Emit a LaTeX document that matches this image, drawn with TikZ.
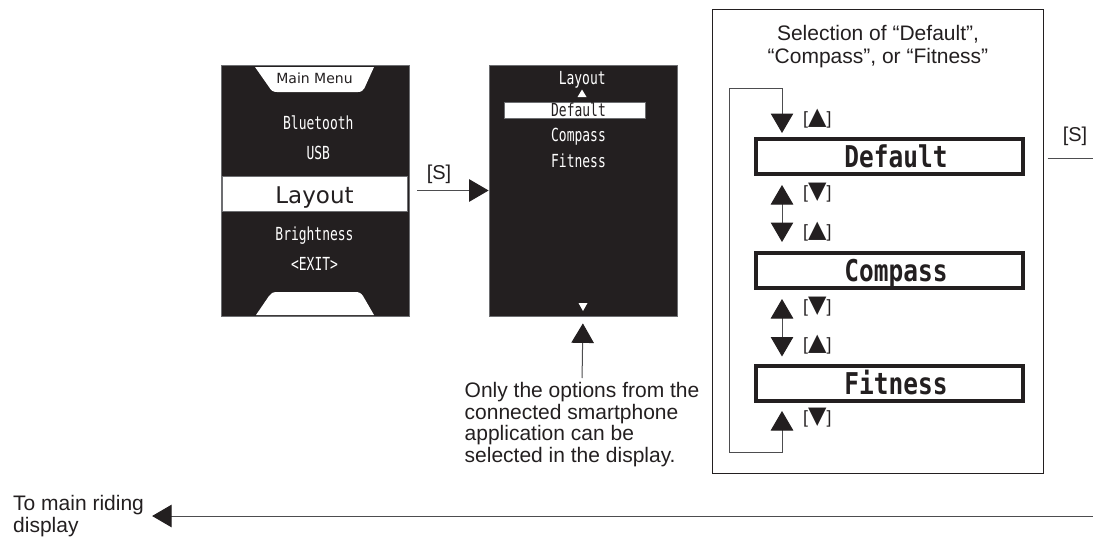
\documentclass[tikz,border=0pt]{standalone}
\usepackage{fontspec}
\setmainfont{Liberation Sans}
\newfontfamily\lcd[FakeStretch=0.72]{DejaVu Sans Mono}
\newfontfamily\lcdbig[FakeStretch=0.815]{DejaVu Sans Mono Bold}
\newfontfamily\dvs{DejaVu Sans}
\usetikzlibrary{arrows.meta,calc}
\definecolor{ink}{HTML}{231F20}
\definecolor{edge}{HTML}{6D6E71}
\definecolor{wire}{HTML}{4D4D4F}
\newcommand\upG{{\dvs\fontsize{24}{24}\selectfont ▲}}
\newcommand\dnG{{\dvs\fontsize{24}{24}\selectfont ▼}}
\begin{document}
\begin{tikzpicture}[x=1pt,y=-1pt,
  >={Triangle[length=19.5pt,width=22.5pt,color=ink]},
  screen/.style={fill=ink,draw=edge,line width=0.8pt,minimum width=188pt,minimum height=251pt,inner sep=0pt},
  scrtxt/.style={text=white,font=\lcd\fontsize{18}{18}\selectfont,anchor=base,inner sep=0pt},
  hilite/.style={fill=white,draw=edge,line width=0.8pt,inner sep=0pt},
  body/.style={font=\fontsize{21}{21.7}\selectfont,inner sep=0pt,text=ink},
  lab/.style={font=\fontsize{17.7}{17.7}\selectfont,inner sep=0pt,text=ink,anchor=base west},
  wirel/.style={draw=wire,line width=1pt},
  selbox/.style={draw=ink,line width=4pt,fill=white,minimum width=267pt,minimum height=35pt,inner sep=0pt,
    font=\lcdbig\fontsize{30}{30}\selectfont,text=ink,text height=21.7pt,text depth=0pt}
]
\useasboundingbox (0,0) rectangle (1093,538);

% ---- screen 1: main menu
\node[screen] (s1) at (315,190.5) {};
\fill[white] (255,67) -- (269,87) .. controls (271,90.5) and (273,92) .. (277,92) -- (358,92)
  .. controls (362,92) and (363,90) .. (364.5,88) -- (374,67) -- cycle;
\fill[white] (256,315) -- (269,296) .. controls (271,293) and (273,292) .. (278,292) -- (355,292)
  .. controls (359,292) and (361,293) .. (363,296) -- (374,315) -- cycle;
\node[anchor=base,inner sep=0pt,text=ink,font=\dvs\fontsize{14}{14}\selectfont] (mm) at (314.5,83) {Main Menu};
\node[scrtxt] (bt) at (318.3,129) {Bluetooth};
\node[scrtxt] (usb) at (318.3,159) {USB};
\node[hilite,minimum width=185pt,minimum height=35pt] (lhi) at (314.5,193.5) {};
\node[anchor=base,inner sep=0pt,text=ink,font=\dvs\fontsize{23}{23}\selectfont] (lay) at (314.5,203) {Layout};
\node[scrtxt] (br) at (314.5,240.7) {Brightness};
\node[scrtxt] (ex) at (314.5,270) {<EXIT>};

% ---- screen 2: layout
\node[screen] (s2) at (583,190.5) {};
\node[scrtxt] (lt2) at (582.2,84) {Layout};
\fill[white] (577.5,97) -- (586.5,97) -- (582,89.5) -- cycle;
\node[hilite,minimum width=141pt,minimum height=16pt] (dhi) at (574.5,110) {};
\node[scrtxt,text=ink] (d2) at (578.5,116) {Default};
\node[scrtxt] (c2) at (578.5,141.7) {Compass};
\node[scrtxt] (f2) at (578.5,167.7) {Fitness};
\fill[white] (578.5,303) -- (587.5,303) -- (583,311) -- cycle;

% ---- [S] arrow between screens
\draw[wirel,->,shorten <=8pt] (s1.east) -- (s2.west);
\node[body,anchor=base,font=\fontsize{20}{20}\selectfont] (sl) at (439,179.3) {[S]};

% ---- note
\node[body,align=left,anchor=north] (note) at (582,382)
  {Only the options from the\\connected smartphone\\application can be\\selected in the display.};
\draw[wirel,->,shorten <=4pt,shorten >=7pt] (note.north) -- (s2.south);

% ---- right panel
\node[draw=ink,line width=1.2pt,minimum width=331pt,minimum height=464pt,inner sep=0pt] (panel) at (878,241.5) {};
\node[body,align=center,anchor=north,font=\fontsize{21}{23.3}\selectfont] (title) at (878,25)
  {Selection of “Default”,\\“Compass”, or “Fitness”};
\node[selbox] (Default) at (889.5,156.5) {\hspace*{13pt}Default};
\node[selbox] (Compass) at (889.5,270.5) {\hspace*{13pt}Compass};
\node[selbox] (Fitness) at (889.5,383.5) {\hspace*{13pt}Fitness};
\coordinate (col) at (782,0);
\coordinate (lb) at (729,452);
\coordinate (lt) at (729,88);
\draw[wirel,<->,shorten <=9pt,shorten >=9pt] (Default.south -| col) -- (Compass.north -| col);
\draw[wirel,<->,shorten <=9pt,shorten >=7.5pt] (Compass.south -| col) -- (Fitness.north -| col);
\draw[wirel,<->,shorten <=8pt,shorten >=4pt] (Fitness.south -| col) -- (col |- lb) -- (lb) -- (lt) -- (col |- lt) -- (Default.north -| col);
\node[lab] (l1) at (803,124.6) {[\upG]};
\node[lab] (l2) at (803,198.6) {[\dnG]};
\node[lab] (l3) at (803,237) {[\upG]};
\node[lab] (l4) at (803,312.3) {[\dnG]};
\node[lab] (l5) at (803,350.3) {[\upG]};
\node[lab] (l6) at (803,423.6) {[\dnG]};

% ---- exit to the right
\coordinate (re2) at (1093,158);
\draw[wirel,shorten <=3.4pt] (panel.east |- re2) -- (re2);
\node[body,anchor=base,font=\fontsize{20}{20}\selectfont] (sr) at (1075,141.5) {[S]};

% ---- back to main riding display
\node[body,align=left,anchor=west] (tomain) at (13,516) {To main riding\\display};
\coordinate (re) at (1093,516);
\draw[wirel,->,shorten >=8pt] (re) -- (tomain.east |- re);
\end{tikzpicture}
\end{document}
